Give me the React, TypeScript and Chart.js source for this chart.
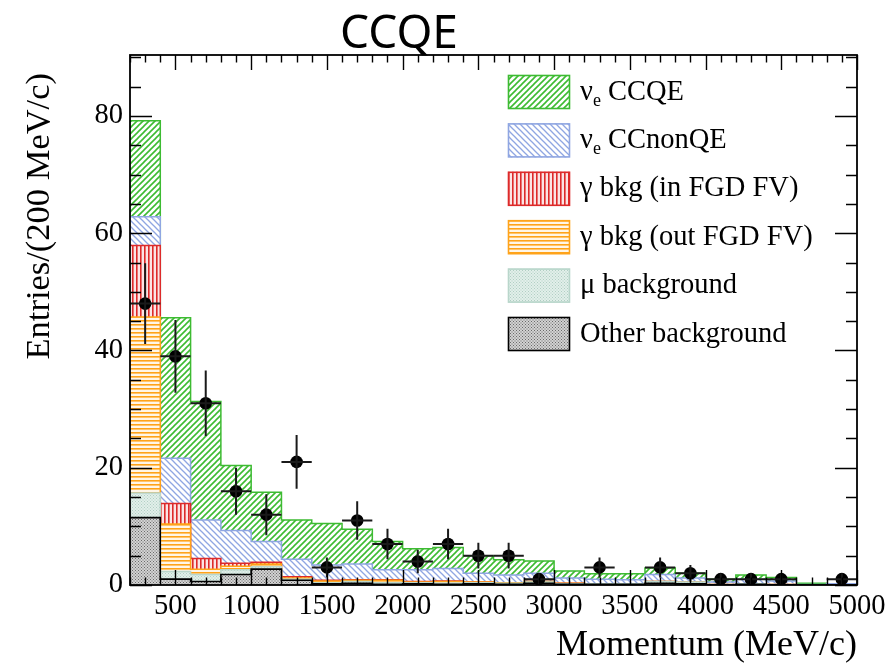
import React, { useEffect, useRef } from 'react';
import { Chart, registerables } from 'chart.js';

Chart.register(...registerables);

// ---------- data ----------
const binLowEdges = [200, 400, 600, 800, 1000, 1200, 1400, 1600, 1800, 2000, 2200, 2400, 2600, 2800, 3000, 3200, 3400, 3600, 3800, 4000, 4200, 4400, 4600, 4800];
const binUpperEdge = 5000;
const binCenters = [300, 500, 700, 900, 1100, 1300, 1500, 1700, 1900, 2100, 2300, 2500, 2700, 2900, 3100, 3300, 3500, 3700, 3900, 4100, 4300, 4500, 4700, 4900];
const binHalfWidth = 100;

const otherBkg = [11.5, 1.0, 0.6, 1.8, 2.7, 0.8, 0.2, 0.3, 0.1, 0.2, 0.1, 0.2, 0.1, 0.3, 0.1, 0.1, 0.1, 0.3, 0.2, 0.05, 0.1, 0.05, 0, 0];
const muBkg = [4.2, 1.3, 1.2, 0.8, 0.4, 0.2, 0.2, 0.3, 0.3, 0.2, 0.2, 0.2, 0.2, 0.2, 0.1, 0.1, 0.1, 0.3, 0.3, 0.05, 0.1, 0.05, 0, 0];
const gammaOutFV = [30.0, 8.1, 0.9, 0.6, 0.5, 0.2, 0.3, 0.2, 0.4, 0.1, 0.3, 0.1, 0.1, 0.1, 0.1, 0, 0, 0, 0, 0, 0, 0, 0, 0];
const gammaInFV = [12.2, 3.5, 1.8, 0.5, 0.3, 0.2, 0.1, 0.1, 0.1, 0.1, 0.1, 0, 0, 0, 0, 0, 0, 0, 0, 0, 0, 0, 0, 0];
const nueCCnonQE = [4.9, 7.7, 6.6, 5.6, 3.5, 3.0, 2.6, 2.7, 1.7, 2.0, 2.1, 1.5, 1.3, 1.4, 0.9, 0.8, 0.7, 1.2, 0.7, 0.4, 0.8, 0.6, 0.1, 0.2];
const nueCCQE = [16.4, 24.0, 20.2, 11.1, 8.4, 6.7, 7.1, 5.9, 4.8, 3.6, 3.6, 3.0, 2.6, 2.1, 1.2, 0.9, 1.0, 1.1, 0.8, 0.5, 0.7, 0.6, 0.2, 0.0];

const dataCounts = [48, 39, 31, 16, 12, 21, 3, 11, 7, 4, 7, 5, 5, 1, 0, 3, 0, 3, 2, 1, 1, 1, 0, 1];
const dataErrors = [6.9, 6.2, 5.6, 4.0, 3.5, 4.6, 1.7, 3.3, 2.6, 2.0, 2.6, 2.2, 2.2, 1.0, 0, 1.7, 0, 1.7, 1.4, 1.0, 1.0, 1.0, 0, 1.0];

const seriesLabels = ['Other background', 'μ background', 'γ bkg (out FGD FV)', 'γ bkg (in FGD FV)', 'ν_e CCnonQE', 'ν_e CCQE'];
const xTickValues = [500, 1000, 1500, 2000, 2500, 3000, 3500, 4000, 4500, 5000];
const yTickValues = [0, 20, 40, 60, 80];
const chartTitle = 'CCQE';
const xTitle = 'Momentum (MeV/c)';
const yTitle = 'Entries/(200 MeV/c)';

// ---------- styling ----------
const SERIF = '"Liberation Serif", "DejaVu Serif", serif';

type PatKind = 'diagUp' | 'diagDown' | 'vert' | 'horiz' | 'dots';

function makePattern(kind: PatKind, fg: string, bg: string, lw: number, size: number, dot?: string): CanvasPattern {
  const c = document.createElement('canvas');
  c.width = size;
  c.height = size;
  const g = c.getContext('2d')!;
  g.fillStyle = bg;
  g.fillRect(0, 0, size, size);
  g.strokeStyle = fg;
  g.fillStyle = fg;
  g.lineWidth = lw;
  const s = size;
  const line = (x1: number, y1: number, x2: number, y2: number) => {
    g.beginPath();
    g.moveTo(x1, y1);
    g.lineTo(x2, y2);
    g.stroke();
  };
  if (kind === 'diagUp') {
    line(-1, s + 1, s + 1, -1);
    line(-1, 1, 1, -1);
    line(s - 1, s + 1, s + 1, s - 1);
  } else if (kind === 'diagDown') {
    line(-1, -1, s + 1, s + 1);
    line(s - 1, -1, s + 1, 1);
    line(-1, s - 1, 1, s + 1);
  } else if (kind === 'vert') {
    g.fillRect(0, 0, lw, s);
  } else if (kind === 'horiz') {
    g.fillRect(0, 0, s, lw);
  } else {
    g.fillStyle = dot || fg;
    g.fillRect(0, 0, 1, 1);
    g.fillRect(s / 2, s / 2, 1, 1);
  }
  return g.createPattern(c, 'repeat')!;
}

function drawRichText(ctx: CanvasRenderingContext2D, text: string, x: number, y: number, size: number) {
  // supports "_e" subscript
  const parts = text.split('_');
  let cx = x;
  parts.forEach((p, i) => {
    if (i === 0) {
      ctx.font = `${size}px ${SERIF}`;
      ctx.fillText(p, cx, y);
      cx += ctx.measureText(p).width;
    } else {
      const sub = p.charAt(0);
      const rest = p.slice(1);
      ctx.font = `${Math.round(size * 0.62)}px ${SERIF}`;
      ctx.fillText(sub, cx, y + size * 0.22);
      cx += ctx.measureText(sub).width;
      ctx.font = `${size}px ${SERIF}`;
      ctx.fillText(rest, cx, y);
      cx += ctx.measureText(rest).width;
    }
  });
}

export default function App() {
  const canvasRef = useRef<HTMLCanvasElement | null>(null);

  useEffect(() => {
    const canvas = canvasRef.current;
    if (!canvas) return;

    const patterns = [
      makePattern('dots', '#555555', '#d2d2d2', 1, 3, '#6a6a6a'),
      makePattern('dots', '#b6d3c8', '#e2efea', 1, 3, '#b0cfc3'),
      makePattern('horiz', '#ffa31a', '#fff6e8', 1.6, 4),
      makePattern('vert', '#dd2a2a', '#fbe4e4', 1.6, 4),
      makePattern('diagDown', '#8fa6e2', '#ffffff', 1.3, 6),
      makePattern('diagUp', '#3dbb32', '#ffffff', 1.6, 6),
    ];
    const borders = ['#000000', '#b9d6cb', '#ffa31a', '#dd2a2a', '#8fa6e2', '#3dbb32'];
    const layerValues = [otherBkg, muBkg, gammaOutFV, gammaInFV, nueCCnonQE, nueCCQE];

    const mcDatasets = layerValues.map((vals, i) => ({
      type: 'line' as const,
      label: seriesLabels[i],
      data: [
        ...binLowEdges.map((x, j) => ({ x, y: vals[j] })),
        { x: binUpperEdge, y: vals[vals.length - 1] },
      ],
      stepped: 'before' as const,
      fill: i === 0 ? 'origin' : '-1',
      backgroundColor: patterns[i],
      borderColor: borders[i],
      borderWidth: i === 0 ? 1.6 : 1.5,
      pointRadius: 0,
      tension: 0,
      stack: 'mc',
    }));

    const dataPoints = binCenters
      .map((x, j) => ({ x, y: dataCounts[j], e: dataErrors[j] }))
      .filter((p) => p.y > 0);

    const dataDataset = {
      type: 'line' as const,
      label: 'Data',
      data: dataPoints.map((p) => ({ x: p.x, y: p.y })),
      showLine: false,
      pointRadius: 6.3,
      pointBackgroundColor: '#000000',
      pointBorderColor: '#000000',
      pointBorderWidth: 0,
      fill: false,
      stack: 'data',
      order: -1,
    };

    const decorPlugin = {
      id: 'rootDecor',
      afterDatasetsDraw(chart: any) {
        const ctx: CanvasRenderingContext2D = chart.ctx;
        const xs = chart.scales.x;
        const ys = chart.scales.y;
        const a = chart.chartArea;
        ctx.save();

        // error bars
        ctx.strokeStyle = '#1a1a1a';
        ctx.lineWidth = 2;
        dataPoints.forEach((p) => {
          const px = xs.getPixelForValue(p.x);
          const py = ys.getPixelForValue(p.y);
          ctx.beginPath();
          ctx.moveTo(xs.getPixelForValue(p.x - binHalfWidth), py);
          ctx.lineTo(xs.getPixelForValue(p.x + binHalfWidth), py);
          ctx.moveTo(px, ys.getPixelForValue(p.y - p.e));
          ctx.lineTo(px, ys.getPixelForValue(p.y + p.e));
          ctx.stroke();
        });

        // frame
        ctx.strokeStyle = '#000000';
        ctx.lineWidth = 1.8;
        ctx.strokeRect(a.left, a.top, a.right - a.left, a.bottom - a.top);

        // ticks (inward, all four sides)
        ctx.lineWidth = 1.4;
        ctx.beginPath();
        for (let v = 200; v <= 5000; v += 100) {
          const px = Math.round(xs.getPixelForValue(v)) + 0.5;
          const len = v % 500 === 0 ? 15 : 7.5;
          ctx.moveTo(px, a.bottom);
          ctx.lineTo(px, a.bottom - len);
          ctx.moveTo(px, a.top);
          ctx.lineTo(px, a.top + len);
        }
        for (let v = 0; v <= 90; v += 5) {
          const py = Math.round(ys.getPixelForValue(v)) + 0.5;
          const len = v % 20 === 0 ? 22 : 11;
          ctx.moveTo(a.left, py);
          ctx.lineTo(a.left + len, py);
          ctx.moveTo(a.right, py);
          ctx.lineTo(a.right - len, py);
        }
        ctx.stroke();

        // legend
        const lx = 508;
        const lw = 62;
        const lh = 34;
        const order = [5, 4, 3, 2, 1, 0];
        order.forEach((idx, row) => {
          const top = 75 + row * 48.4;
          ctx.fillStyle = patterns[idx];
          ctx.fillRect(lx, top, lw, lh);
          ctx.strokeStyle = borders[idx];
          ctx.lineWidth = 1.6;
          ctx.strokeRect(lx + 0.5, top + 0.5, lw - 1, lh - 1);
          ctx.fillStyle = '#000000';
          ctx.textAlign = 'left';
          ctx.textBaseline = 'alphabetic';
          drawRichText(ctx, seriesLabels[idx], 580, top + lh / 2 + 7.5, 28.5);
        });

        // titles
        ctx.fillStyle = '#000000';
        ctx.font = `46px "Noto Sans", "Open Sans", sans-serif`;
        ctx.textAlign = 'center';
        ctx.textBaseline = 'alphabetic';
        ctx.fillText(chartTitle, 399, 48);

        ctx.font = `36px ${SERIF}`;
        ctx.textAlign = 'right';
        ctx.fillText(xTitle, a.right, 655);

        ctx.save();
        ctx.font = `34.5px ${SERIF}`;
        ctx.translate(49, 73);
        ctx.rotate(-Math.PI / 2);
        ctx.textAlign = 'right';
        ctx.fillText(yTitle, 0, 0);
        ctx.restore();

        ctx.restore();
      },
    };

    const chart = new Chart(canvas, {
      type: 'line',
      data: { datasets: [...mcDatasets, dataDataset] as any },
      options: {
        responsive: false,
        animation: false,
        events: [],
        layout: { padding: { top: 55, right: 36, bottom: 0, left: 0 } },
        plugins: {
          legend: { display: false },
          tooltip: { enabled: false },
          title: { display: false },
          filler: { propagate: false },
        },
        scales: {
          x: {
            type: 'linear',
            min: 200,
            max: 5000,
            afterBuildTicks: (s: any) => {
              s.ticks = xTickValues.map((v) => ({ value: v }));
            },
            afterFit: (s: any) => {
              s.height = 79;
            },
            grid: { display: false, drawTicks: false },
            border: { display: false },
            ticks: {
              autoSkip: false,
              maxRotation: 0,
              padding: 4,
              color: '#000000',
              font: { family: SERIF, size: 28.5 },
              callback: (v: any) => String(v),
            },
          },
          y: {
            type: 'linear',
            stacked: true,
            min: 0,
            max: 90.4,
            afterBuildTicks: (s: any) => {
              s.ticks = yTickValues.map((v) => ({ value: v }));
            },
            afterFit: (s: any) => {
              s.width = 130;
            },
            grid: { display: false, drawTicks: false },
            border: { display: false },
            ticks: {
              padding: 7,
              color: '#000000',
              font: { family: SERIF, size: 28.5 },
              callback: (v: any) => String(v),
            },
          },
        },
      },
      plugins: [decorPlugin],
    });

    return () => {
      chart.destroy();
    };
  }, []);

  return (
    <div style={{ position: 'fixed', left: 0, top: 0, width: 893, height: 664, background: '#ffffff' }}>
      <canvas ref={canvasRef} width={893} height={664} style={{ display: 'block', width: 893, height: 664 }} />
    </div>
  );
}
